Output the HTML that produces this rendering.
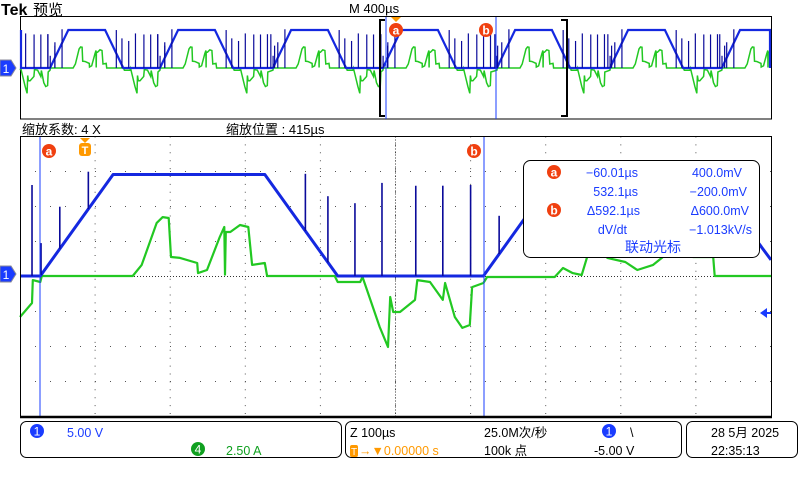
<!DOCTYPE html>
<html><head><meta charset="utf-8">
<style>
html,body{margin:0;padding:0;background:#fff;width:800px;height:480px;overflow:hidden}
svg{display:block;font-family:"Liberation Sans","Noto Sans CJK SC",sans-serif}
</style></head>
<body>
<svg id="scope" width="800" height="480" viewBox="0 0 800 480">
  <rect x="0" y="0" width="800" height="480" fill="#fff"/>
  <text x="1" y="15" font-size="16" font-weight="bold" font-family="Liberation Sans, sans-serif" fill="#000">Tek</text>
  <text x="33" y="15" font-size="15" fill="#000">预览</text>
  <text x="349" y="13" font-size="13" fill="#000">M 400µs</text>

  <g>
    <rect x="20.5" y="16.5" width="751" height="102.5" fill="#fff" stroke="#000" stroke-width="1"/>
    <g id="ovTraces"></g>
    <line x1="386" y1="17" x2="386" y2="119" stroke="#1a3cff" stroke-width="1"/>
    <line x1="496" y1="17" x2="496" y2="119" stroke="#1a3cff" stroke-width="1"/>
    <path d="M385 20 L380 20 L380 116 L385 116" fill="none" stroke="#000" stroke-width="2"/>
    <path d="M561 20 L567 20 L567 116 L561 116" fill="none" stroke="#000" stroke-width="2"/>
    <path d="M391 17 L401 17 L396 22 Z" fill="#f90"/>
    <circle cx="396" cy="30" r="7" fill="#f04010"/>
    <text x="396" y="34.5" font-size="12" font-weight="bold" fill="#fff" text-anchor="middle">a</text>
    <circle cx="486" cy="30" r="7" fill="#f04010"/>
    <text x="486" y="34.5" font-size="12" font-weight="bold" fill="#fff" text-anchor="middle">b</text>
    <g>
      <path d="M0 60 L11 60 L16 68 L11 76 L0 76 Z" fill="#1a3cff" stroke="#889" stroke-width="1"/>
      <text x="6" y="73" font-size="12" fill="#fff" text-anchor="middle">1</text>
    </g>
  </g>

  <text x="22" y="134" font-size="13" fill="#000">缩放系数: 4 X</text>
  <text x="226" y="134" font-size="13" fill="#000">缩放位置 : 415µs</text>

  <g>
    <g id="grid"></g>
    <g id="mainTraces"></g>
    <line x1="40" y1="137" x2="40" y2="416" stroke="#1a3cff" stroke-width="1"/>
    <line x1="484" y1="137" x2="484" y2="416" stroke="#1a3cff" stroke-width="1"/>
    <rect x="20.5" y="136.5" width="751" height="280" fill="none" stroke="#000" stroke-width="1"/>
    <line x1="20" y1="417" x2="772" y2="417" stroke="#000" stroke-width="2.5"/>
    <circle cx="49" cy="151" r="7" fill="#f04010"/>
    <text x="49" y="155.5" font-size="12" font-weight="bold" fill="#fff" text-anchor="middle">a</text>
    <circle cx="474" cy="151" r="7" fill="#f04010"/>
    <text x="474" y="155.5" font-size="12" font-weight="bold" fill="#fff" text-anchor="middle">b</text>
    <g>
      <path d="M80 138 L90 138 L85 143 Z" fill="#f90"/>
      <rect x="79" y="143" width="12" height="13" rx="3" fill="#f90"/>
      <text x="85" y="154" font-size="11" font-weight="bold" fill="#fff" text-anchor="middle">T</text>
    </g>
    <g>
      <path d="M0 266 L11 266 L16 274 L11 282 L0 282 Z" fill="#1a3cff" stroke="#889" stroke-width="1"/>
      <text x="6" y="279" font-size="12" fill="#fff" text-anchor="middle">1</text>
    </g>
    <path d="M760 313 L767 308 L767 318 Z" fill="#1a3cff"/>
    <line x1="767" y1="313" x2="771" y2="313" stroke="#1a3cff" stroke-width="2"/>

    <g>
      <rect x="523.5" y="160.5" width="236" height="97" rx="7" fill="#fff" stroke="#000" stroke-width="1"/>
      <circle cx="554" cy="172" r="7" fill="#f04010"/>
      <text x="554" y="176.5" font-size="12" font-weight="bold" fill="#fff" text-anchor="middle">a</text>
      <circle cx="554" cy="210" r="7" fill="#f04010"/>
      <text x="554" y="214.5" font-size="12" font-weight="bold" fill="#fff" text-anchor="middle">b</text>
      <g font-size="12.5" fill="#1a3cff">
        <text x="638" y="177" text-anchor="end">−60.01µs</text>
        <text x="742" y="177" text-anchor="end">400.0mV</text>
        <text x="638" y="196" text-anchor="end">532.1µs</text>
        <text x="747" y="196" text-anchor="end">−200.0mV</text>
        <text x="640" y="215" text-anchor="end">Δ592.1µs</text>
        <text x="749" y="215" text-anchor="end">Δ600.0mV</text>
        <text x="627" y="234" text-anchor="end">dV/dt</text>
        <text x="752" y="234" text-anchor="end">−1.013kV/s</text>
        <text x="653" y="252" text-anchor="middle" font-size="14">联动光标</text>
      </g>
    </g>
  </g>

  <g>
    <rect x="20.5" y="421.5" width="321" height="36" rx="6" fill="#fff" stroke="#000"/>
    <circle cx="37" cy="431" r="7" fill="#1a3cff"/>
    <text x="37" y="435.5" font-size="12" fill="#fff" text-anchor="middle">1</text>
    <text x="67" y="437" font-size="12.5" fill="#1a3cff">5.00 V</text>
    <circle cx="198" cy="449" r="7" fill="#10a020"/>
    <text x="198" y="453.5" font-size="12" fill="#fff" text-anchor="middle">4</text>
    <text x="226" y="455" font-size="12.5" fill="#10a020">2.50 A</text>
  </g>
  <g>
    <rect x="345.5" y="421.5" width="336" height="36" rx="6" fill="#fff" stroke="#000"/>
    <text x="350" y="437" font-size="12.5" fill="#000">Z 100µs</text>
    <text x="484" y="437" font-size="12.5" fill="#000">25.0M次/秒</text>
    <circle cx="609" cy="431" r="7" fill="#1a3cff"/>
    <text x="609" y="435.5" font-size="12" fill="#fff" text-anchor="middle">1</text>
    <text x="630" y="437" font-size="12.5" fill="#000">\</text>
    <rect x="350" y="445" width="8" height="12" rx="2" fill="#f90"/>
    <text x="351" y="455" font-size="10" fill="#fff">T</text>
    <text x="359" y="455" font-size="12.5" fill="#f90">→▼0.00000 s</text>
    <text x="484" y="455" font-size="12.5" fill="#000">100k 点</text>
    <text x="594" y="455" font-size="12.5" fill="#000">-5.00 V</text>
  </g>
  <g>
    <rect x="686.5" y="421.5" width="111" height="36" rx="6" fill="#fff" stroke="#000"/>
    <text x="711" y="437" font-size="12.5" fill="#000">28 5月 2025</text>
    <text x="711" y="455" font-size="12.5" fill="#000">22:35:13</text>
  </g>
</svg>
<script>
const blueT = [0, 27, 124, 326, 423, 617, 714, 916, 1000];
const blueV = [0, 0, 14.5, 14.5, 0, 0, 14.5, 14.5, 2.3];
const spikeT = [16, 28, 53, 91, 380, 410, 446, 482, 527, 563, 600, 638];
const spikeV = [13, 4.7, 9.9, 14.9, 14.6, 11.4, 10.4, 13.3, 12.9, 12.9, 13, 8.6];
const greenT = [0,16,17,27,29,150,162,182,190,198,201,213,236,237,249,266,272,273,274,280,293,304,309,326,329,419,423,453,456,462,479,490,493,497,506,526,529,546,563,566,579,589,599,602,617,622,712,723,736,748,768,776,782,806,822,843,856,859,879,892,896,923,925,1000];
const greenA = [-2.93,-1.93,-0.29,-0.43,0,0,0.79,3.79,4.21,4.14,1.36,1.29,0.93,0.21,0.43,2.79,3.5,0.1,3.14,3.14,3.64,3.5,0.79,0.93,0,0,-0.43,-0.43,-0.07,-1,-3.64,-5.07,-1.5,-2.57,-2.57,-1.71,-0.29,-0.43,-1.71,-0.5,-2.93,-3.71,-3.5,-0.79,-0.5,-0.07,-0.07,0.57,0.21,0.07,3.64,4.14,1.29,1,0.43,0.79,1.36,3.3,3.64,3.43,1.36,1.36,0,0];
const ovRiseT = [160, 745, 1347, 1933, 2540, 3142, 3738];
const ovEdge = [97];
const ovHigh = [196];
const ovLevel = [14.6];

const NS = 'http://www.w3.org/2000/svg';
function mk(tag, attrs, parent){const e=document.createElementNS(NS,tag);for(const k in attrs)e.setAttribute(k,attrs[k]);parent.appendChild(e);return e;}

const X0=20, X1=771, Y0=136.5, Y1=416.5, YC=276;
const xMain = t => X0 + t*(X1-X0)/1000;
const yCh1 = v => YC - v/5*35;
const yCh4 = a => YC - a/2.5*35;

const grid=document.getElementById('grid');


for(let i=1;i<10;i++){const x=X0+i*75.1;mk('line',{x1:x,y1:Y0,x2:x,y2:Y1,stroke:'#555','stroke-width':1,'stroke-dasharray':'1 6.9'},grid);}
for(let j=1;j<8;j++){const y=Y0+j*35;mk('line',{x1:X0,y1:y,x2:X1,y2:y,stroke:'#555','stroke-width':1,'stroke-dasharray':'1 14'},grid);}
mk('line',{x1:X0,y1:YC+0.5,x2:X1,y2:YC+0.5,stroke:'#333','stroke-width':1,'stroke-dasharray':'1 2'},grid);
mk('line',{x1:395.5,y1:Y0,x2:395.5,y2:Y1,stroke:'#333','stroke-width':1,'stroke-dasharray':'1 2'},grid);

const mt=document.getElementById('mainTraces');
let d='';
greenT.forEach((t,i)=>{d+=(i?'L':'M')+xMain(t).toFixed(1)+' '+yCh4(greenA[i]).toFixed(1);});
const g=mk('path',{d:d,fill:'none',stroke:'#22c822','stroke-width':2.2,'stroke-linejoin':'round'},mt);


d='';
blueT.forEach((t,i)=>{d+=(i?'L':'M')+xMain(t).toFixed(1)+' '+yCh1(blueV[i]).toFixed(1);});
const b=mk('path',{d:d,fill:'none',stroke:'#1428e0','stroke-width':3,'stroke-linejoin':'round'},mt);


function baseAt(t){for(let i=1;i<blueT.length;i++){if(t<=blueT[i]){const f=(t-blueT[i-1])/(blueT[i]-blueT[i-1]);return blueV[i-1]+f*(blueV[i]-blueV[i-1]);}}return blueV[blueV.length-1];}
spikeT.forEach((t,i)=>{
  const s=mk('line',{x1:xMain(t),y1:yCh1(baseAt(t)),x2:xMain(t),y2:yCh1(spikeV[i]),stroke:'#0a0a9a','stroke-width':1.6},mt);
  
  
});

const ov=document.getElementById('ovTraces');
const OX0=20, OX1=771, OYC=68;
const xOv = t => OX0 + t*(OX1-OX0)/4000;
const yOv1 = v => OYC - v*2.6;
const yOv4 = a => OYC - a*5;
const cl = x => Math.max(OX0+1, Math.min(OX1-1, x));
const period = ovRiseT[1]-ovRiseT[0];
const starts=[ovRiseT[0]-period].concat(ovRiseT);
let gd='';
starts.forEach(rs=>{
  greenT.forEach((t,i)=>{
    if(t<27||t>=617)return;
    const tt=rs+(t-27);
    if(tt<0||tt>4000)return;
    gd+=(gd?'L':'M')+xOv(tt).toFixed(1)+' '+yOv4(greenA[i]).toFixed(1);
  });
});
const og=mk('path',{d:gd,fill:'none',stroke:'#22c822','stroke-width':1.5},ov);


let bd='M'+(OX0+1)+' '+yOv1(0);
starts.forEach(rs=>{
  const pts=[[rs,0],[rs+ovEdge[0],ovLevel[0]],[rs+ovEdge[0]+ovHigh[0],ovLevel[0]],[rs+2*ovEdge[0]+ovHigh[0],0]];
  pts.forEach(p=>{bd+='L'+cl(xOv(p[0])).toFixed(1)+' '+yOv1(p[1]).toFixed(1);});
});
bd+='L'+(OX1-1)+' '+yOv1(ovLevel[0]);
const ob=mk('path',{d:bd,fill:'none',stroke:'#1428e0','stroke-width':2.2},ov);


starts.forEach(rs=>{
  spikeT.forEach((t,i)=>{
    const tt=rs+(t-27);
    if(tt<0||tt>4000)return;
    const x=xOv(tt);
    const s=mk('line',{x1:x,y1:yOv1(0),x2:x,y2:yOv1(spikeV[i]),stroke:'#0a0a9a','stroke-width':1.2},ov);
    
    
  });
});
</script>
</body></html>
